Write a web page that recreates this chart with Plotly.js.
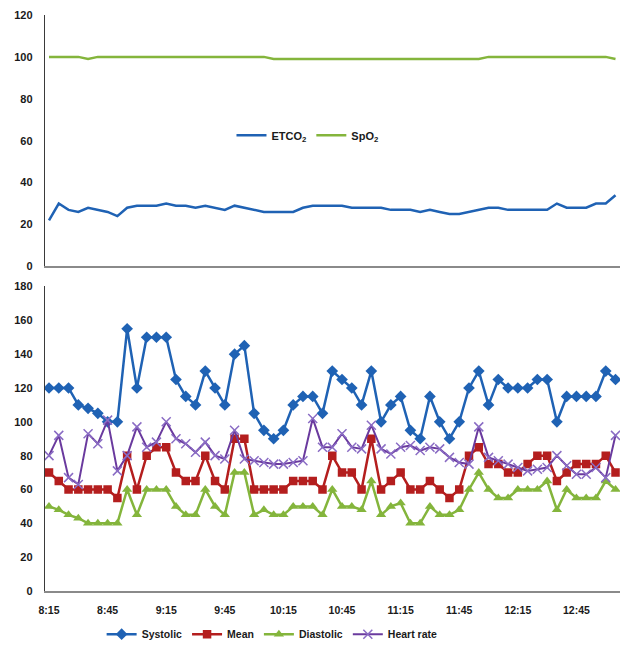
<!DOCTYPE html>
<html>
<head>
<meta charset="utf-8">
<script src="https://cdn.plot.ly/plotly-3.0.1.min.js"></script>
<style>
html,body{margin:0;padding:0;background:#fff;}
#chart{width:623px;height:645px;}
</style>
</head>
<body>
<div id="chart"></div>
<script>
var times = ['8:15','8:20','8:25','8:30','8:35','8:40','8:45','8:50','8:55','9:00','9:05','9:10','9:15','9:20','9:25','9:30','9:35','9:40','9:45','9:50','9:55','10:00','10:05','10:10','10:15','10:20','10:25','10:30','10:35','10:40','10:45','10:50','10:55','11:00','11:05','11:10','11:15','11:20','11:25','11:30','11:35','11:40','11:45','11:50','11:55','12:00','12:05','12:10','12:15','12:20','12:25','12:30','12:35','12:40','12:45','12:50','12:55','13:00','13:05'];
var tickLabels = ['8:15','8:45','9:15','9:45','10:15','10:45','11:15','11:45','12:15','12:45'];

var etco2 = [22,30,27,26,28,27,26,24,28,29,29,29,30,29,29,28,29,28,27,29,28,27,26,26,26,26,28,29,29,29,29,28,28,28,28,27,27,27,26,27,26,25,25,26,27,28,28,27,27,27,27,27,30,28,28,28,30,30,34];
var spo2 = [100,100,100,100,99,100,100,100,100,100,100,100,100,100,100,100,100,100,100,100,100,100,100,99,99,99,99,99,99,99,99,99,99,99,99,99,99,99,99,99,99,99,99,99,99,100,100,100,100,100,100,100,100,100,100,100,100,100,99];

var systolic = [120,120,120,110,108,105,100,100,155,120,150,150,150,125,115,110,130,120,110,140,145,105,95,90,95,110,115,115,105,130,125,120,110,130,100,110,115,95,90,115,100,90,100,120,130,110,125,120,120,120,125,125,100,115,115,115,115,130,125];
var mean = [70,65,60,60,60,60,60,55,80,60,80,85,85,70,65,65,80,65,60,90,90,60,60,60,60,65,65,65,60,80,70,70,60,90,60,65,70,60,60,65,60,55,60,80,85,75,75,70,70,75,80,80,65,70,75,75,75,80,70];
var diastolic = [50,48,45,43,40,40,40,40,60,45,60,60,60,50,45,45,60,50,45,70,70,45,48,45,45,50,50,50,45,60,50,50,48,65,45,50,52,40,40,50,45,45,48,60,70,60,55,55,60,60,60,65,48,60,55,55,55,65,60];
var heartRate = [80,92,67,63,93,87,101,71,80,97,85,88,100,90,87,82,88,80,78,95,78,77,76,75,75,76,77,102,85,85,93,85,84,98,84,81,85,86,83,85,84,79,76,75,97,79,77,75,73,71,72,73,80,74,69,69,73,67,92];

var cBlue = '#1F62B4', cGreen = '#84B53C', cRed = '#B41E1E', cPurple = '#6A3A9E';

var traces = [
  {x: times, y: etco2, name: 'ETCO<sub>2</sub>', type: 'scatter', mode: 'lines',
   line: {color: cBlue, width: 2.5}, xaxis: 'x', yaxis: 'y', legend: 'legend2'},
  {x: times, y: spo2, name: 'SpO<sub>2</sub>', type: 'scatter', mode: 'lines',
   line: {color: cGreen, width: 2.5}, xaxis: 'x', yaxis: 'y', legend: 'legend2'},
  {x: times, y: systolic, name: 'Systolic', type: 'scatter', mode: 'lines+markers',
   line: {color: cBlue, width: 2.5}, marker: {symbol: 'diamond', size: 9, color: cBlue},
   xaxis: 'x2', yaxis: 'y2', legend: 'legend'},
  {x: times, y: mean, name: 'Mean', type: 'scatter', mode: 'lines+markers',
   line: {color: cRed, width: 2.5}, marker: {symbol: 'square', size: 8.5, color: cRed},
   xaxis: 'x2', yaxis: 'y2', legend: 'legend'},
  {x: times, y: diastolic, name: 'Diastolic', type: 'scatter', mode: 'lines+markers',
   line: {color: cGreen, width: 2.5}, marker: {symbol: 'triangle-up', size: 9, color: cGreen},
   xaxis: 'x2', yaxis: 'y2', legend: 'legend'},
  {x: times, y: heartRate, name: 'Heart rate', type: 'scatter', mode: 'lines+markers',
   line: {color: cPurple, width: 2}, marker: {symbol: 'x-thin', size: 9, color: '#8A6CC4', line: {color: '#8A6CC4', width: 1.5}},
   xaxis: 'x2', yaxis: 'y2', legend: 'legend'}
];

var tickFont = {family: 'Arial, "Liberation Sans", sans-serif', size: 11, weight: 'bold', color: '#1a1a1a'};
var xTickFont = {family: 'Arial, "Liberation Sans", sans-serif', size: 10.5, weight: 'bold', color: '#1a1a1a'};

var xBase = {
  type: 'category', categoryorder: 'array', categoryarray: times,
  range: [-0.41, 58.46], showgrid: false, zeroline: false,
  showline: true, linecolor: '#8a8a8a', linewidth: 1.5, ticks: '',
  fixedrange: true, automargin: false
};

var layout = {
  width: 623, height: 645,
  margin: {l: 45, r: 3, t: 15, b: 54, autoexpand: false},
  paper_bgcolor: '#ffffff', plot_bgcolor: '#ffffff',
  showlegend: true,
  xaxis: Object.assign({}, xBase, {domain: [0, 1], anchor: 'y', showticklabels: false}),
  xaxis2: Object.assign({}, xBase, {domain: [0, 1], anchor: 'y2', showticklabels: true,
    tickmode: 'array', tickvals: tickLabels, ticktext: tickLabels, tickfont: xTickFont,
    ticklabelstandoff: 9}),
  yaxis: {domain: [0.5635, 1], anchor: 'x', range: [0, 120], dtick: 20, tick0: 0,
    showgrid: false, zeroline: false, showline: true, linecolor: '#3a3a3a', linewidth: 1.2,
    ticks: '', tickfont: tickFont, ticklabelstandoff: 9, fixedrange: true, automargin: false},
  yaxis2: {domain: [0, 0.5287], anchor: 'x2', range: [0, 180], dtick: 20, tick0: 0,
    showgrid: false, zeroline: false, showline: true, linecolor: '#3a3a3a', linewidth: 1.2,
    ticks: '', tickfont: tickFont, ticklabelstandoff: 9, fixedrange: true, automargin: false},
  legend: {orientation: 'h', x: 0.395, xanchor: 'center', y: -0.075, yanchor: 'middle',
    font: {family: 'Arial, "Liberation Sans", sans-serif', size: 10.5, weight: 'bold', color: '#1a1a1a'},
    itemwidth: 30, bgcolor: 'rgba(0,0,0,0)', traceorder: 'normal'},
  legend2: {orientation: 'h', x: 0.4565, xanchor: 'center', y: 0.7913, yanchor: 'middle',
    font: {family: 'Arial, "Liberation Sans", sans-serif', size: 11, weight: 'bold', color: '#1a1a1a'},
    itemwidth: 30, bgcolor: 'rgba(0,0,0,0)', traceorder: 'normal'}
};

Plotly.newPlot('chart', traces, layout, {displayModeBar: false, staticPlot: true});
</script>
</body>
</html>
